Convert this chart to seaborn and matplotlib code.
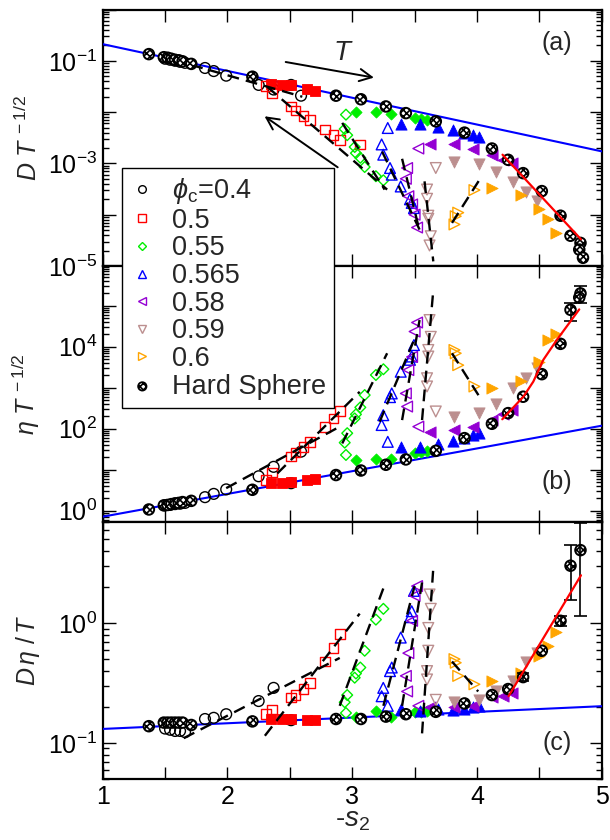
import numpy as np
import matplotlib
matplotlib.use("Agg")
import matplotlib.pyplot as plt
import seaborn as sns
from matplotlib.ticker import LogLocator, MultipleLocator, NullFormatter, FuncFormatter
from matplotlib.lines import Line2D

sns.set_theme(style="ticks")
plt.rcParams["font.family"] = ["Liberation Sans", "DejaVu Sans"]
plt.rcParams["mathtext.fontset"] = "custom"
plt.rcParams["mathtext.rm"] = "Liberation Sans"
plt.rcParams["mathtext.it"] = "Liberation Sans:italic"
plt.rcParams["mathtext.bf"] = "Liberation Sans:bold"
plt.rcParams["hatch.linewidth"] = 1.2

nan = np.nan
# ---------------- data (log10 values) ----------------
# Hard sphere
hs_x = [1.37, 1.49, 1.52, 1.55, 1.58, 1.61, 1.64, 1.71, 2.20, 2.87, 3.07, 3.27, 3.43, 3.67, 3.90, 4.12, 4.25, 4.37, 4.52, 4.67, 4.75, 4.83, 4.82, 4.85]
hs_a = [-0.87, -0.93, -0.94, -0.96, -0.98, -0.99, -1.01, -1.06, -1.31, -1.68, -1.75, -1.89, -2.02, -2.18, -2.40, -2.71, -2.93, -3.19, -3.54, -4.02, -4.41, -4.55, -4.68, -4.84]
hs_b = [0.03, 0.13, 0.14, 0.16, 0.18, 0.19, 0.21, 0.24, 0.51, 0.87, 0.98, 1.12, 1.25, 1.46, 1.77, 2.12, 2.38, 2.78, 3.33, 4.07, 4.90, 5.30, 5.20, nan]
hs_c = [-0.86, -0.83, -0.83, -0.83, -0.83, -0.83, -0.83, -0.85, -0.82, -0.80, -0.80, -0.78, -0.76, -0.74, -0.67, -0.60, -0.55, -0.45, -0.23, 0.02, 0.48, 0.61, nan, nan]
hs_errb_x = [4.75, 4.83]
hs_errb_lo = [4.63, 5.06]
hs_errb_hi = [5.06, 5.48]
hs_errc_x = [4.37, 4.67, 4.75, 4.83]
hs_errc_lo = [-0.48, -0.02, 0.19, 0.06]
hs_errc_hi = [-0.42, 0.06, 0.65, 0.84]

# phi_c = 0.4 (open circles)
c04_x = [1.50, 1.54, 1.58, 1.62, 1.66, 1.82, 1.89, 1.99, 2.25, 2.37, 2.51, 2.59]
c04_a = [-0.96, -0.98, -1.00, -1.02, -1.04, -1.14, -1.20, -1.29, -1.47, -1.56, -1.47, -1.68]
c04_b = [0.13, 0.14, 0.16, 0.17, 0.19, 0.33, 0.41, 0.52, 0.84, 1.07, 0.67, 1.44]
c04_c = [-0.88, -0.89, -0.90, -0.90, -0.91, -0.80, -0.79, -0.76, -0.65, -0.54, -0.81, nan]

# phi_c = 0.5
r_fill_x = [2.35, 2.435, 2.51, 2.64, 2.70]
r_fill_a = [-1.45, -1.47, -1.48, -1.55, -1.58]
r_fill_b = [0.68, 0.68, 0.71, 0.75, 0.77]
r_fill_c = [-0.80, -0.80, -0.80, -0.81, -0.81]
r_open_x = [2.31, 2.36, 2.51, 2.545, 2.61, 2.665, 2.78, 2.85, 2.905, 3.06]
r_open_a = [-1.49, -1.63, -1.89, -1.97, -2.07, -2.16, -2.34, -2.44, -2.55, -2.63]
r_open_b = [0.75, 0.93, 1.32, 1.42, 1.56, 1.68, 2.05, 2.25, 2.43, nan]
r_open_c = [-0.76, -0.72, -0.62, -0.60, -0.55, -0.50, -0.32, -0.21, -0.09, nan]

# phi_c = 0.55
g_fill_x = [3.03, 3.19, 3.31, 3.50, 3.55, 3.60]
g_fill_a = [-1.99, -1.99, -2.03, -2.12, -2.14, -2.16]
g_fill_b = [1.24, 1.26, 1.25, 1.40, 1.42, 1.46]
g_fill_c = [-0.78, -0.73, -0.78, -0.74, -0.74, -0.735]
g_open_x = [2.95, 2.94, 2.96, 3.02, 3.03, 3.065, 3.10, 3.19, 3.25]
g_open_a = [-2.05, -2.33, -2.45, -2.68, -2.80, -2.89, -3.07, -3.25, -3.33]
g_open_b = [1.36, 1.66, 1.89, 2.25, 2.35, 2.52, 2.82, 3.31, 3.45]
g_open_c = [-0.75, -0.66, -0.60, -0.455, -0.42, -0.37, -0.23, 0.03, 0.12]

# phi_c = 0.565
b_fill_x = [3.39, 3.54, 3.69, 3.81, 3.90, 3.97, 4.02]
b_fill_a = [-2.23, -2.23, -2.29, -2.34, -2.41, -2.44, -2.49]
b_fill_b = [1.55, 1.56, 1.63, 1.70, 1.77, 1.85, 1.89]
b_fill_c = [-0.72, -0.735, -0.72, -0.725, -0.715, -0.70, -0.69]
b_open_x = [3.285, 3.236, 3.249, 3.303, 3.317, 3.389, 3.463, 3.477, 3.495]
b_open_a = [-2.31, -2.63, -2.83, -3.09, -3.22, -3.45, -3.70, -3.77, -3.87]
b_open_b = [1.68, 2.09, 2.33, 2.77, 2.86, 3.39, 3.68, 3.76, 4.04]
b_open_c = [-0.69, -0.61, -0.54, -0.40, -0.37, -0.12, 0.05, 0.10, 0.27]

# phi_c = 0.58
v_fill_x = [3.62, 3.82, 3.97, 4.12, 4.21, 4.28]
v_fill_a = [-2.62, -2.63, -2.72, -2.83, -2.94, -3.00]
v_fill_b = [1.93, 1.97, 2.05, 2.21, 2.36, 2.46]
v_fill_c = [-0.70, -0.70, -0.69, -0.62, -0.61, -0.58]
v_open_x = [3.53, 3.44, 3.43, 3.45, 3.48, 3.50, 3.52]
v_open_a = [-2.71, -3.09, -3.30, -3.64, -3.80, -4.00, -4.25]
v_open_b = [2.05, 2.54, 2.86, 3.43, 3.75, 4.37, 4.59]
v_open_c = [-0.69, -0.57, -0.44, -0.25, 0.02, 0.23, 0.31]

# phi_c = 0.59
p_fill_x = [3.82, 4.02, 4.15, 4.29, 4.39, 4.48]
p_fill_a = [-2.98, -3.01, -3.17, -3.37, -3.56, -3.74]
p_fill_b = [2.29, 2.38, 2.60, 2.99, 3.23, 3.47]
p_fill_c = [-0.66, -0.64, -0.57, -0.48, -0.32, -0.25]
p_open_x = [3.67, 3.60, 3.60, 3.61, 3.61, 3.63, 3.62]
p_open_a = [-3.09, -3.51, -3.69, -4.02, -4.08, -4.42, -4.60]
p_open_b = [2.42, 3.03, 3.23, 3.76, 3.92, 4.24, 4.65]
p_open_c = [-0.64, -0.47, -0.40, -0.23, -0.04, 0.12, 0.24]

# phi_c = 0.6
o_fill_x = [4.12, 4.35, 4.50, 4.57, 4.63]
o_fill_a = [-3.48, -3.61, -3.89, -4.09, -4.35]
o_fill_b = [2.99, 3.17, 3.63, 4.16, 4.31]
o_fill_c = [-0.48, -0.42, -0.27, -0.19, -0.07]
o_open_x = [3.98, 3.85, 3.83, 3.82]
o_open_a = [-3.52, -3.96, -4.03, -4.19]
o_open_b = [3.03, 3.55, 3.84, 3.92]
o_open_c = [-0.51, -0.44, -0.33, -0.30]

# fit lines
blue_x = [1.0, 5.0]
blue_a = [-0.675, -2.765]
blue_b = [-0.146, 2.073]
blue_c = [-0.883, -0.693]
red_a_x = [4.205, 4.834]
red_a = [-2.83, -4.48]
red_b_x = [4.203, 4.372, 4.452, 4.532, 4.639, 4.820]
red_b = [2.23, 2.78, 3.15, 3.68, 4.16, 4.91]
red_c_x = [4.253, 4.834]
red_c = [-0.61, 0.40]

# dashed fits (x0, logy0, x1, logy1)
dash_a = [(1.71, -1.08, 2.60, -1.70), (2.32, -1.51, 3.28, -3.51), (2.92, -2.21, 3.26, -3.51),
          (3.24, -2.77, 3.54, -4.29), (3.40, -2.91, 3.54, -4.32), (3.58, -3.35, 3.65, -4.91),
          (3.80, -4.16, 4.02, -3.32)]
dash_b = [(1.99, 0.55, 2.90, 2.05), (2.40, 0.91, 3.06, 2.90), (2.92, 1.64, 3.28, 3.84),
          (3.22, 2.17, 3.49, 4.12), (3.40, 2.21, 3.54, 4.65), (3.56, 2.21, 3.65, 5.38),
          (3.80, 3.84, 4.02, 2.78)]
dash_c = [(1.65, -0.96, 2.90, -0.29), (2.30, -0.94, 3.06, 0.08), (2.90, -0.69, 3.26, 0.32),
          (3.25, -0.69, 3.50, 0.31), (3.40, -0.69, 3.56, 0.34), (3.56, -0.92, 3.65, 0.46),
          (3.80, -0.32, 4.01, -0.57)]

legend_labels = [r"$\phi_{\rm c}$=0.4", "0.5", "0.55", "0.565", "0.58", "0.59", "0.6", "Hard Sphere"]
RED, GREEN, BLUE, VIOLET, ROSY, ORANGE = "#ff0000", "#00ee00", "#0000ff", "#9400d3", "#bc8f8f", "#ffa500"

# ---------------- figure ----------------
fig = plt.figure(figsize=(6.1, 8.4), dpi=100)
L, W = 102.7 / 610, 499.0 / 610
ax_a = fig.add_axes([L, 1 - 266 / 840, W, 256.5 / 840])
ax_b = fig.add_axes([L, 1 - 522 / 840, W, 256 / 840])
ax_c = fig.add_axes([L, 1 - 779 / 840, W, 257 / 840])

def P(v):
    return 10.0 ** np.asarray(v, dtype=float)

def pts(ax, x, y, marker, color, s, filled):
    if filled:
        sns.scatterplot(x=x, y=P(y), ax=ax, marker=marker, s=s, color=color,
                        edgecolor=color, linewidth=0.6, zorder=4)
    else:
        sns.scatterplot(x=x, y=P(y), ax=ax, marker=marker, s=s, facecolors="none",
                        edgecolor=color, linewidth=1.0, zorder=4)

def hs(ax, x, y):
    sns.scatterplot(x=x, y=P(y), ax=ax, marker="o", s=58, facecolor="white",
                    edgecolor="black", linewidth=1.4, hatch="xxxxx", zorder=6)

series = [
    (c04_x, (c04_a, c04_b, c04_c), "o", "black", 60, False),
    (r_open_x, (r_open_a, r_open_b, r_open_c), "s", RED, 50, False),
    (r_fill_x, (r_fill_a, r_fill_b, r_fill_c), "s", RED, 55, True),
    (g_open_x, (g_open_a, g_open_b, g_open_c), "D", GREEN, 30, False),
    (g_fill_x, (g_fill_a, g_fill_b, g_fill_c), "D", GREEN, 32, True),
    (b_open_x, (b_open_a, b_open_b, b_open_c), "^", BLUE, 60, False),
    (b_fill_x, (b_fill_a, b_fill_b, b_fill_c), "^", BLUE, 65, True),
    (v_open_x, (v_open_a, v_open_b, v_open_c), "<", VIOLET, 60, False),
    (v_fill_x, (v_fill_a, v_fill_b, v_fill_c), "<", VIOLET, 65, True),
    (p_open_x, (p_open_a, p_open_b, p_open_c), "v", ROSY, 60, False),
    (p_fill_x, (p_fill_a, p_fill_b, p_fill_c), "v", ROSY, 65, True),
    (o_open_x, (o_open_a, o_open_b, o_open_c), ">", ORANGE, 60, False),
    (o_fill_x, (o_fill_a, o_fill_b, o_fill_c), ">", ORANGE, 65, True),
]

axes = [ax_a, ax_b, ax_c]
hs_all = [hs_a, hs_b, hs_c]
blue_all = [blue_a, blue_b, blue_c]
dash_all = [dash_a, dash_b, dash_c]
ylims = [(1e-5, 1.0), (0.53, 1e6 * 0.93), (0.05, 7.0)]

for i, ax in enumerate(axes):
    ax.set_yscale("log")
    for (x0, y0, x1, y1) in dash_all[i]:
        sns.lineplot(x=[x0, x1], y=P([y0, y1]), ax=ax, color="black", lw=1.7,
                     linestyle=(0, (5, 3)), sort=False, estimator=None, zorder=5)
    sns.lineplot(x=blue_x, y=P(blue_all[i]), ax=ax, color=BLUE, lw=1.5, sort=False,
                 estimator=None, zorder=3)
    for (x, ys, m, col, s, filled) in series:
        pts(ax, x, ys[i], m, col, s, filled)
    hs(ax, hs_x, hs_all[i])

sns.lineplot(x=red_a_x, y=P(red_a), ax=ax_a, color=RED, lw=1.6, sort=False, estimator=None, zorder=7)
sns.lineplot(x=red_b_x, y=P(red_b), ax=ax_b, color=RED, lw=1.6, sort=False, estimator=None, zorder=7)
sns.lineplot(x=red_c_x, y=P(red_c), ax=ax_c, color=RED, lw=1.6, sort=False, estimator=None, zorder=7)

# error bars
for ax, ex, lo, hi in [(ax_b, hs_errb_x, hs_errb_lo, hs_errb_hi), (ax_c, hs_errc_x, hs_errc_lo, hs_errc_hi)]:
    ax.vlines(ex, P(lo), P(hi), color="black", lw=1.2, zorder=6)
    ax.hlines(P(lo), np.array(ex) - 0.05, np.array(ex) + 0.05, color="black", lw=1.2, zorder=6)
    ax.hlines(P(hi), np.array(ex) - 0.05, np.array(ex) + 0.05, color="black", lw=1.2, zorder=6)

ylabels = [r"$D\ T^{\,-1/2}$", r"$\eta\ T^{\,-1/2}$", r"$D\,\eta\ /\,T$"]
panel_tags = ["(a)", "(b)", "(c)"]
tag_y = [0.87, 0.157, 0.14]
label_sets = [[1e-5, 1e-3, 1e-1], [1e0, 1e2, 1e4], [1e-1, 1e0]]

for i, ax in enumerate(axes):
    ax.set_xlim(1, 5)
    ax.set_ylim(*ylims[i])
    ax.set_xlabel("")
    ax.set_ylabel(ylabels[i], fontsize=18)
    ax.yaxis.set_label_coords(-0.122, 0.5)
    ax.xaxis.set_major_locator(MultipleLocator(1))
    ax.xaxis.set_minor_locator(MultipleLocator(0.5))
    ax.yaxis.set_major_locator(LogLocator(base=10, numticks=20))
    ax.yaxis.set_minor_locator(LogLocator(base=10, subs=np.arange(2, 10), numticks=20))
    labs = label_sets[i]
    def f(v, pos, labs=labs):
        for l in labs:
            if abs(np.log10(v) - np.log10(l)) < 1e-6:
                e = int(round(np.log10(v)))
                return r"$\mathdefault{10^{%d}}$" % e
        return ""
    ax.yaxis.set_major_formatter(FuncFormatter(f))
    ax.yaxis.set_minor_formatter(NullFormatter())
    ax.tick_params(axis="both", which="both", direction="in", top=True, right=True,
                   labelsize=18, width=1.0, colors="black")
    ax.tick_params(axis="y", which="major", length=9, pad=4)
    ax.tick_params(axis="y", which="minor", length=4.5)
    ax.tick_params(axis="x", which="both", length=8.5, pad=4)
    for sp in ax.spines.values():
        sp.set_linewidth(1.6)
        sp.set_color("black")
    ax.text(0.94, tag_y[i], panel_tags[i], transform=ax.transAxes, fontsize=18,
            ha="right", va="center")
    if i < 2:
        ax.tick_params(axis="x", labelbottom=False)

ax_c.set_xlabel(r"-$s_2$", fontsize=20, labelpad=-1)

# arrows in (a)
ax_a.annotate("", xy=(3.196, 10 ** -1.337), xytext=(2.445, 10 ** -1.014),
              arrowprops=dict(arrowstyle="->", lw=1.4, color="black", mutation_scale=22))
ax_a.annotate("", xy=(2.279, 10 ** -2.05), xytext=(2.902, 10 ** -3.107),
              arrowprops=dict(arrowstyle="->", lw=1.4, color="black", mutation_scale=22))
ax_a.text(2.93, 10 ** -0.84, r"$T$", fontsize=20, ha="center", va="center")

# legend
mk = dict(ls="", markersize=5.5, markeredgewidth=1.0)
handles = [
    Line2D([], [], marker="o", mfc="none", mec="black", **mk),
    Line2D([], [], marker="s", mfc="none", mec=RED, **mk),
    Line2D([], [], marker="D", mfc="none", mec=GREEN, ls="", markersize=4.5, markeredgewidth=1.0),
    Line2D([], [], marker="^", mfc="none", mec=BLUE, **mk),
    Line2D([], [], marker="<", mfc="none", mec=VIOLET, **mk),
    Line2D([], [], marker="v", mfc="none", mec=ROSY, **mk),
    Line2D([], [], marker=">", mfc="none", mec=ORANGE, **mk),
]
hs_proxy = ax_a.scatter([], [], marker="o", s=36, facecolor="white", edgecolor="black",
                        linewidth=1.3, hatch="xxxxx")
handles.append(hs_proxy)
leg = fig.legend(handles, legend_labels, loc="upper left",
                 bbox_to_anchor=(122 / 610, 1 - 168 / 840), bbox_transform=fig.transFigure,
                 fontsize=19.5, frameon=True, fancybox=False, edgecolor="black", framealpha=1,
                 borderpad=0.3, labelspacing=0.06, handlelength=0.9, handletextpad=0.65,
                 borderaxespad=0, scatterpoints=1)
leg.get_frame().set_linewidth(1.0)
leg.set_zorder(20)

fig.savefig("out.png", dpi=100)
